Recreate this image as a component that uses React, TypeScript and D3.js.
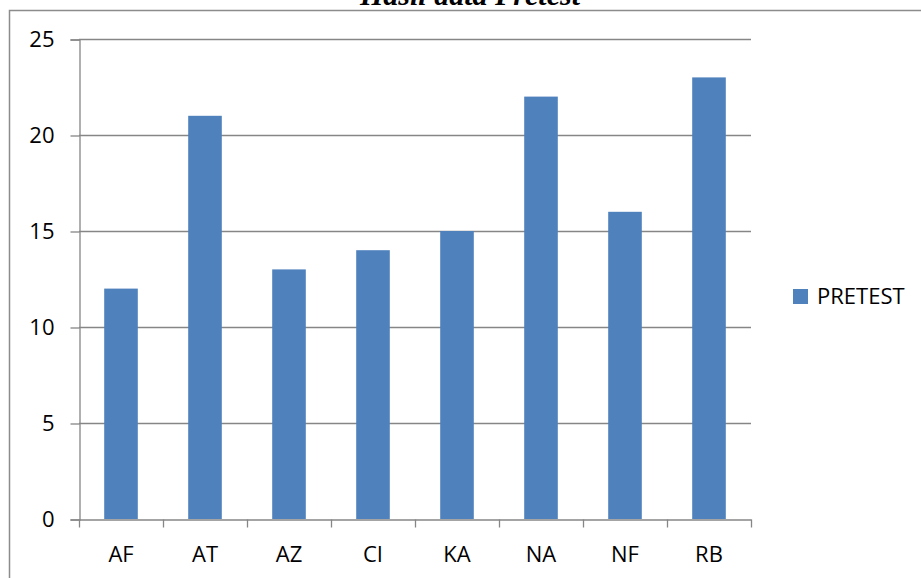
import { useEffect, useRef } from 'react';
import * as d3 from 'd3';

const categories = ['AF', 'AT', 'AZ', 'CI', 'KA', 'NA', 'NF', 'RB'];
const pretest = [12, 21, 13, 14, 15, 22, 16, 23];
const yTicks = [0, 5, 10, 15, 20, 25];
const seriesName = 'PRETEST';
const title = 'Hasil data Pretest';

const App = () => {
    const svgRef = useRef<SVGSVGElement>(null);

    useEffect(() => {
        const width = 921;
        const height = 578;
        const plot = { left: 79, right: 751, top: 39, bottom: 519 };
        const font = '"Open Sans", "Noto Sans", sans-serif';

        d3.select(svgRef.current).selectAll('*').remove();
        const svg = d3.select(svgRef.current)
            .attr('width', width)
            .attr('height', height);

        svg.append('rect').attr('width', width).attr('height', height).attr('fill', '#fff');

        // title sits above the frame, mostly off the top of the picture like in the source
        svg.append('text')
            .attr('x', 470)
            .attr('y', 5)
            .attr('text-anchor', 'middle')
            .attr('font-family', '"Liberation Serif", serif')
            .attr('font-weight', 'bold')
            .attr('font-style', 'italic')
            .attr('font-size', 30)
            .text(title);

        // chart frame (right and bottom edges fall outside the picture)
        svg.append('path')
            .attr('d', `M9.5,${height + 5}V10.5H${width + 5}`)
            .attr('fill', 'none')
            .attr('stroke', '#8c8c8c')
            .attr('stroke-width', 1.5);

        const x = d3.scaleBand()
            .domain(categories)
            .range([plot.left, plot.right])
            .padding(0);

        const y = d3.scaleLinear()
            .domain([0, 25])
            .range([plot.bottom, plot.top]);

        // gridlines
        svg.append('g')
            .selectAll('line')
            .data(yTicks.filter(d => d > 0))
            .enter()
            .append('line')
            .attr('x1', plot.left)
            .attr('x2', plot.right)
            .attr('y1', d => y(d) + 0.5)
            .attr('y2', d => y(d) + 0.5)
            .attr('stroke', '#868686')
            .attr('stroke-width', 1.3);

        // bars
        const barW = x.bandwidth() * 0.4;
        svg.append('g')
            .selectAll('rect')
            .data(pretest)
            .enter()
            .append('rect')
            .attr('x', (d, i) => x(categories[i])! + (x.bandwidth() - barW) / 2)
            .attr('y', d => y(d))
            .attr('width', barW)
            .attr('height', d => y(0) - y(d))
            .attr('fill', '#4f81bd');

        // y axis
        const yAxis = svg.append('g')
            .attr('transform', `translate(${plot.left + 0.5},0.5)`)
            .call(d3.axisLeft(y).tickValues(yTicks).tickSize(9).tickPadding(16).tickFormat(d3.format('d')));
        yAxis.select('.domain').attr('stroke', '#868686').attr('stroke-width', 1.3);
        yAxis.selectAll('.tick line').attr('stroke', '#868686').attr('stroke-width', 1.3);
        yAxis.selectAll('.tick text')
            .attr('font-family', font)
            .attr('font-size', 22)
            .attr('fill', '#000');

        // x axis
        const xAxis = svg.append('g')
            .attr('transform', `translate(0,${plot.bottom + 0.5})`)
            .call(d3.axisBottom(x).tickSize(0).tickPadding(27));
        xAxis.select('.domain').attr('stroke', '#868686').attr('stroke-width', 1.3);
        xAxis.selectAll('.tick text')
            .attr('font-family', font)
            .attr('font-size', 22)
            .attr('fill', '#000');
        xAxis.selectAll('.bound')
            .data(d3.range(categories.length + 1))
            .enter()
            .append('line')
            .attr('class', 'bound')
            .attr('x1', i => plot.left + i * x.bandwidth() + 0.5)
            .attr('x2', i => plot.left + i * x.bandwidth() + 0.5)
            .attr('y1', 0)
            .attr('y2', 8)
            .attr('stroke', '#868686')
            .attr('stroke-width', 1.3);

        // legend
        const legend = svg.append('g').attr('transform', 'translate(793,289)');
        legend.append('rect').attr('width', 15).attr('height', 15).attr('fill', '#4f81bd');
        legend.append('text')
            .attr('x', 24)
            .attr('y', 15)
            .attr('font-family', font)
            .attr('font-size', 22)
            .attr('fill', '#000')
            .text(seriesName);
    }, []);

    return <svg ref={svgRef} style={{ position: 'absolute', left: 0, top: 0 }} />;
};

export default App;
